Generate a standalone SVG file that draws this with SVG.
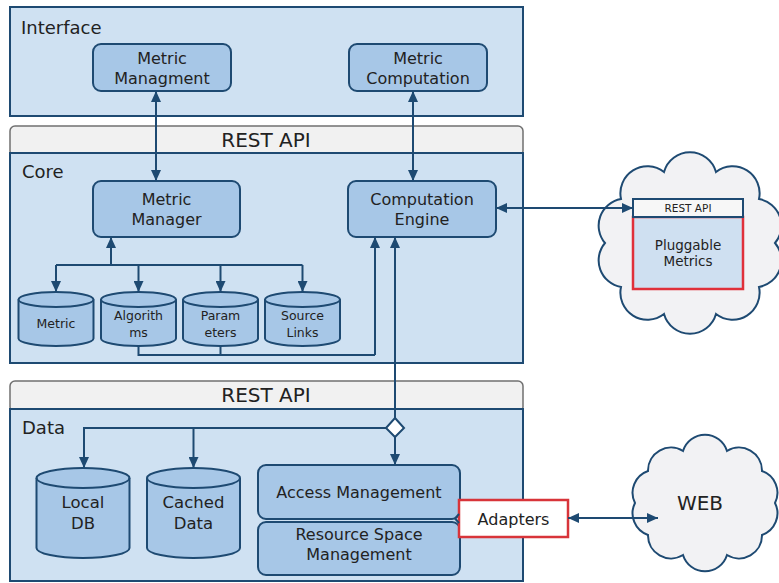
<svg xmlns="http://www.w3.org/2000/svg" width="779" height="583" viewBox="0 0 779 583">
<defs>
<style>
text{font-family:"DejaVu Sans","Liberation Sans",sans-serif;fill:#222;}
.panel{fill:#cfe1f2;stroke:#1e4a72;stroke-width:2;}
.bar{fill:#f1f1f1;stroke:#707070;stroke-width:1.5;}
.box{fill:#a7c7e7;stroke:#1e4a72;stroke-width:2;}
.cyl{fill:#a7c7e7;stroke:#1e4a72;stroke-width:2;}
.cloud{fill:#f2f2f4;stroke:#1e4a72;stroke-width:2;}
.line{fill:none;stroke:#1e4a72;stroke-width:2;}
.arrow{fill:none;stroke:#1e4a72;stroke-width:2;marker-end:url(#ah);}
.arrow2{fill:none;stroke:#1e4a72;stroke-width:2;marker-end:url(#ah);marker-start:url(#ah);}
.lbl{font-size:18px;}
.api{font-size:20px;text-anchor:middle;}
.bt{font-size:16px;text-anchor:middle;}
.ct{font-size:12.5px;text-anchor:middle;}
.dt{font-size:16.5px;text-anchor:middle;}
</style>
<marker id="ah" markerUnits="userSpaceOnUse" markerWidth="12" markerHeight="10" refX="11" refY="5" orient="auto-start-reverse">
<path d="M0,0 L11,5 L0,10 Z" fill="#1e4a72"/>
</marker>
</defs>

<g id="interface">
<rect class="panel" x="10" y="7" width="513" height="109"/>
<text class="lbl" x="21" y="34">Interface</text>
</g>
<g id="metric-managment">
<rect class="box" x="93" y="44" width="138" height="47" rx="8"/>
<text class="bt" x="162" y="63.5">Metric</text>
<text class="bt" x="162" y="83.5">Managment</text>
</g>
<g id="metric-computation">
<rect class="box" x="349" y="44" width="138" height="47" rx="8"/>
<text class="bt" x="418" y="63.5">Metric</text>
<text class="bt" x="418" y="83.5">Computation</text>
</g>

<g id="core">
<rect class="bar" x="10" y="126" width="513" height="30" rx="5"/>
<text class="api" x="266" y="147">REST API</text>
<rect class="panel" x="10" y="153" width="513" height="210"/>
<text class="lbl" x="22" y="178">Core</text>
</g>
<g id="metric-manager">
<rect class="box" x="93" y="181" width="147" height="56" rx="8"/>
<text class="bt" x="166.5" y="205">Metric</text>
<text class="bt" x="166.5" y="225">Manager</text>
</g>
<g id="computation-engine">
<rect class="box" x="348" y="181" width="148" height="56" rx="8"/>
<text class="bt" x="422" y="205">Computation</text>
<text class="bt" x="422" y="225">Engine</text>
</g>
<g id="db-metric">
<path class="cyl" d="M18.5,299.5 A37.5,7.5 0 0 1 93.5,299.5 V338.5 A37.5,7.5 0 0 1 18.5,338.5 Z"/>
<path class="line" d="M18.5,299.5 A37.5,7.5 0 0 0 93.5,299.5"/>
<text class="ct" x="56" y="328">Metric</text>
</g>
<g id="db-algorithms">
<path class="cyl" d="M101,299.5 A37.5,7.5 0 0 1 176,299.5 V338.5 A37.5,7.5 0 0 1 101,338.5 Z"/>
<path class="line" d="M101,299.5 A37.5,7.5 0 0 0 176,299.5"/>
<text class="ct" x="138.5" y="320">Algorith</text>
<text class="ct" x="138.5" y="337">ms</text>
</g>
<g id="db-parameters">
<path class="cyl" d="M183,299.5 A37.5,7.5 0 0 1 258,299.5 V338.5 A37.5,7.5 0 0 1 183,338.5 Z"/>
<path class="line" d="M183,299.5 A37.5,7.5 0 0 0 258,299.5"/>
<text class="ct" x="220.5" y="320">Param</text>
<text class="ct" x="220.5" y="337">eters</text>
</g>
<g id="db-source-links">
<path class="cyl" d="M265,299.5 A37.5,7.5 0 0 1 340,299.5 V338.5 A37.5,7.5 0 0 1 265,338.5 Z"/>
<path class="line" d="M265,299.5 A37.5,7.5 0 0 0 340,299.5"/>
<text class="ct" x="302.5" y="320">Source</text>
<text class="ct" x="302.5" y="337">Links</text>
</g>

<g id="data">
<rect class="bar" x="10" y="381" width="513" height="31" rx="5"/>
<text class="api" x="266" y="402">REST API</text>
<rect class="panel" x="10" y="409" width="513" height="172"/>
<text class="lbl" x="22" y="434">Data</text>
</g>
<g id="db-local">
<path class="cyl" d="M36.5,478 A46.5,10 0 0 1 129.5,478 V548 A46.5,10 0 0 1 36.5,548 Z"/>
<path class="line" d="M36.5,478 A46.5,10 0 0 0 129.5,478"/>
<text class="dt" x="83" y="508">Local</text>
<text class="dt" x="83" y="529">DB</text>
</g>
<g id="db-cached">
<path class="cyl" d="M147,478 A46.5,10 0 0 1 240,478 V548 A46.5,10 0 0 1 147,548 Z"/>
<path class="line" d="M147,478 A46.5,10 0 0 0 240,478"/>
<text class="dt" x="193.5" y="508">Cached</text>
<text class="dt" x="193.5" y="529">Data</text>
</g>
<g id="access-management">
<rect class="box" x="258" y="465" width="202" height="54" rx="8"/>
<text class="bt" x="359" y="498">Access Management</text>
</g>
<g id="resource-space-management">
<rect class="box" x="258" y="522" width="202" height="53" rx="8"/>
<text class="bt" x="359" y="540">Resource Space</text>
<text class="bt" x="359" y="560">Management</text>
</g>
<g id="adapters">
<rect x="459" y="500" width="109" height="37" fill="#ffffff" stroke="#d8343a" stroke-width="2.5"/>
<text class="bt" x="513.5" y="525">Adapters</text>
</g>

<g id="pluggable-cloud">
<path class="cloud" d="M775,243 A27,27 0 0 1 759,287 A27,27 0 0 1 716,314 A27,27 0 0 1 664,314 A27,27 0 0 1 621,287 A27,27 0 0 1 605,243 A27,27 0 0 1 621,199 A27,27 0 0 1 664,172 A27,27 0 0 1 716,172 A27,27 0 0 1 759,199 A27,27 0 0 1 775,243 Z"/>
</g>
<g id="pluggable-metrics">
<rect x="633" y="217" width="110" height="72" fill="#cfe0f1" stroke="#e0303a" stroke-width="2.5"/>
<rect x="633" y="199" width="110" height="18" fill="#f7f7f7" stroke="#1e4a72" stroke-width="2"/>
<text x="688" y="212" font-size="10.5" text-anchor="middle">REST API</text>
<text x="688" y="250" font-size="13.5" text-anchor="middle">Pluggable</text>
<text x="688" y="266" font-size="13.5" text-anchor="middle">Metrics</text>
</g>
<g id="web">
<path class="cloud" d="M775,503 A23,23 0 0 1 762,535 A23,23 0 0 1 727,555 A23,23 0 0 1 683,555 A23,23 0 0 1 648,535 A23,23 0 0 1 635,503 A23,23 0 0 1 648,471 A23,23 0 0 1 683,451 A23,23 0 0 1 727,451 A23,23 0 0 1 762,471 A23,23 0 0 1 775,503 Z"/>
<text x="700" y="510" font-size="20" text-anchor="middle">WEB</text>
</g>

<g id="connectors">
<line class="arrow2" x1="156" y1="91" x2="156" y2="181"/>
<line class="arrow2" x1="413" y1="91" x2="413" y2="181"/>
<line class="arrow" x1="111" y1="265" x2="111" y2="237"/>
<line class="line" x1="56" y1="265" x2="302.5" y2="265"/>
<line class="arrow" x1="56" y1="265" x2="56" y2="292"/>
<line class="arrow" x1="138.5" y1="265" x2="138.5" y2="292"/>
<line class="arrow" x1="220.5" y1="265" x2="220.5" y2="292"/>
<line class="arrow" x1="302.5" y1="265" x2="302.5" y2="292"/>
<polyline class="line" points="138.5,346 138.5,355 375,355"/>
<line class="line" x1="220.5" y1="346" x2="220.5" y2="355"/>
<line class="arrow" x1="375" y1="355" x2="375" y2="237"/>
<line class="arrow" x1="395" y1="418" x2="395" y2="237"/>
<line class="arrow" x1="395" y1="437" x2="395" y2="465"/>
<polyline class="line" points="386,428 84,428 84,455"/>
<line class="arrow" x1="84" y1="440" x2="84" y2="468"/>
<line class="arrow" x1="193.5" y1="428" x2="193.5" y2="468"/>
<path d="M395,418 L404,428 L395,437 L386,428 Z" fill="#ffffff" stroke="#1e4a72" stroke-width="2"/>
<line class="arrow2" x1="496" y1="208" x2="633" y2="208"/>
<line class="arrow2" x1="568" y1="518" x2="658" y2="518"/>
<polyline class="line" points="459,514 455,518.5 459,523" stroke-width="1.5"/>
</g>
</svg>
